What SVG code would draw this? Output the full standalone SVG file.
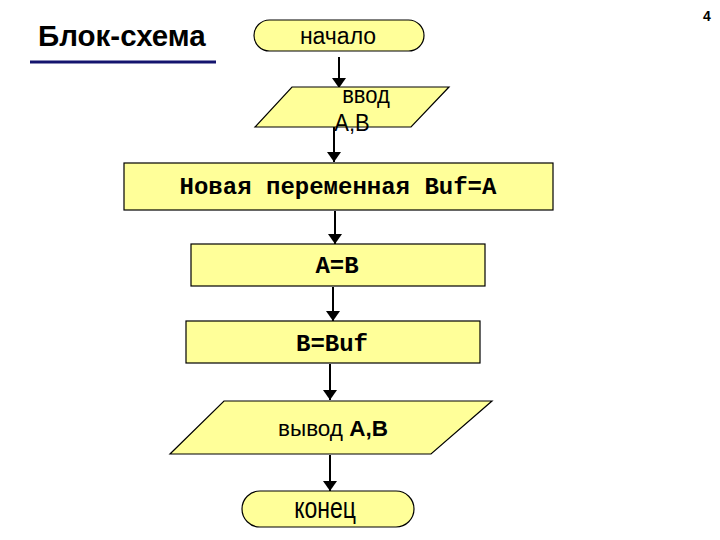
<svg xmlns="http://www.w3.org/2000/svg" width="720" height="540" viewBox="0 0 720 540">
<style>
.shape{fill:#FFFF99;stroke:#000;stroke-width:1.2}
.sans{font-family:"Liberation Sans",Arial,sans-serif;fill:#000}
.mono{font-family:"Liberation Mono","Courier New",monospace;font-weight:bold;font-size:24px;fill:#000}
.conn{stroke:#000;stroke-width:2;fill:none;marker-end:url(#arr)}
</style>
<defs>
<marker id="arr" viewBox="0 0 10 14" refX="10" refY="7" markerWidth="10" markerHeight="14" markerUnits="userSpaceOnUse" orient="auto">
<path d="M0,0 L10,7 L0,14 Z" fill="#000"/>
</marker>
</defs>
<rect width="720" height="540" fill="#fff"/>
<g id="title">
<text class="sans" x="38" y="46" font-size="29.5" font-weight="bold">Блок-схема</text>
<line x1="30" y1="62" x2="216" y2="62" stroke="#14146e" stroke-width="3"/>
</g>
<g id="pagenum"><text class="sans" x="707" y="21" font-size="14" font-weight="bold" text-anchor="middle">4</text></g>
<g id="connectors">
<line class="conn" x1="339" y1="57" x2="339" y2="88"/>
<line class="conn" x1="334" y1="127" x2="334" y2="162"/>
<line class="conn" x1="335" y1="211" x2="335" y2="244"/>
<line class="conn" x1="333" y1="287" x2="333" y2="321"/>
<line class="conn" x1="330" y1="364" x2="330" y2="400"/>
<line class="conn" x1="330" y1="455" x2="330" y2="491"/>
</g>
<g id="start">
<rect class="shape" x="254" y="20" width="170" height="31" rx="15.5" ry="15.5"/>
<text class="sans" x="338" y="44" font-size="23" text-anchor="middle">начало</text>
</g>
<g id="input">
<polygon class="shape" points="292,87 449,87 411,127 255,127"/>
<text class="sans" font-size="22" text-anchor="middle" transform="translate(366,103) scale(1,1.12)">ввод</text>
<text class="sans" font-size="22" text-anchor="middle" transform="translate(352,131) scale(1,1.12)">A,B</text>
</g>
<g id="newvar">
<rect class="shape" x="124" y="163" width="429" height="47"/>
<text class="mono" x="338" y="194" text-anchor="middle">Новая переменная Buf=A</text>
</g>
<g id="assignA">
<rect class="shape" x="191" y="244" width="294" height="42"/>
<text class="mono" x="337" y="273" text-anchor="middle">A=B</text>
</g>
<g id="assignB">
<rect class="shape" x="186" y="321" width="294" height="42"/>
<text class="mono" x="332" y="351" text-anchor="middle">B=Buf</text>
</g>
<g id="output">
<polygon class="shape" points="224,401 492,401 431,454 170,454"/>
<text class="sans" x="333" y="436" font-size="22.5" text-anchor="middle">вывод <tspan font-weight="bold">A,B</tspan></text>
</g>
<g id="end">
<rect class="shape" x="242" y="491" width="172" height="36" rx="18" ry="18"/>
<text class="sans" font-size="23" text-anchor="middle" transform="translate(325,518) scale(1,1.3)">конец</text>
</g>
</svg>
